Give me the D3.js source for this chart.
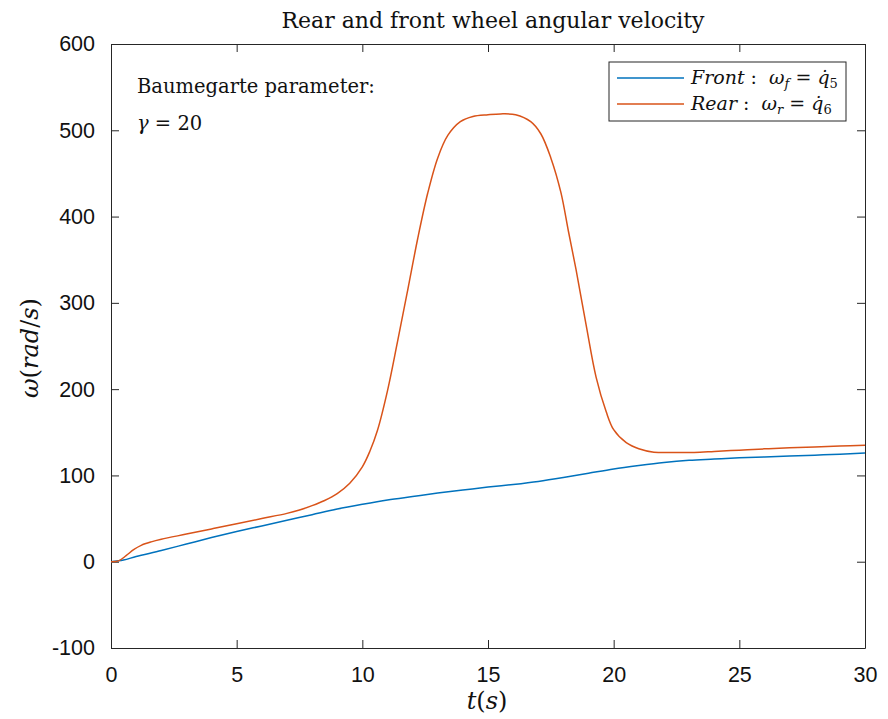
<!DOCTYPE html>
<html>
<head>
<meta charset="utf-8">
<script src="https://cdn.jsdelivr.net/npm/d3@7"></script>
<style>
  html, body { margin: 0; padding: 0; background: #fff; }
  svg { display: block; }
</style>
</head>
<body>
<svg id="chart" width="888" height="719"></svg>
<script>
// Time samples (s) and angular velocities (rad/s) for both wheels
const frontT = [0, 0.5, 1, 2, 3, 4, 5, 6, 7, 8, 9, 10, 11, 12, 13, 14, 15, 16, 17, 18, 19, 20, 21, 22, 23, 24, 25, 26, 27, 28, 29, 30];
const frontW = [0, 2, 6, 13, 20.5, 28, 35, 41.5, 48, 54.5, 61, 66.5, 71.5, 75.5, 79.5, 83, 86.5, 89.5, 93, 97.5, 102.5, 107.5, 111.5, 115, 117.5, 119, 120.5, 121.5, 122.5, 123.5, 124.5, 126];

const rearT = [0, 0.3, 0.6, 0.9, 1.2, 1.6, 2, 3, 4, 5, 6, 7, 7.5, 8, 8.5, 9, 9.5, 10, 10.3, 10.6, 11, 11.4, 11.8, 12.2, 12.6, 13, 13.4, 13.9, 14.4, 15, 15.5, 16.1, 16.7, 17.1, 17.5, 17.9, 18.2, 18.5, 18.9, 19.3, 19.7, 20, 20.5, 21, 21.6, 22.3, 23.2, 24, 25, 26, 27, 28, 29, 30];
const rearW = [0, 1, 7, 14, 19, 23, 26, 32, 38, 44, 50, 56, 60, 65, 71, 79, 91, 110, 128, 152, 198, 255, 314, 374, 427, 468, 494, 510, 516, 518, 519, 518, 510, 496, 468, 428, 383, 339, 275, 214, 174, 153, 138, 131, 127, 126.5, 126.7, 127.8, 129.3, 130.8, 132, 133, 134, 135];

const xTicks = [0, 5, 10, 15, 20, 25, 30];
const yTicks = [-100, 0, 100, 200, 300, 400, 500, 600];

const seriesColors = { front: "#0072BD", rear: "#D95319" };

const svg = d3.select("#chart");
const m = { left: 111, right: 865, top: 44, bottom: 648 };

const x = d3.scaleLinear().domain([0, 30]).range([m.left, m.right]);
const y = d3.scaleLinear().domain([-100, 600]).range([m.bottom, m.top]);

const axisColor = "#262626";
const tickLen = 8;
const plainNum = d => String(d); // hyphen-minus like the plotting tool uses

// Axes with inward ticks on all four sides (boxed)
function styleAxis(g) {
  g.selectAll("path.domain").attr("stroke", axisColor).attr("stroke-width", 1);
  g.selectAll(".tick line").attr("stroke", axisColor).attr("stroke-width", 1);
  g.selectAll(".tick text")
    .attr("fill", "#111")
    .style("font-family", "'Liberation Sans', Arial, sans-serif")
    .style("font-size", "21.5px");
}

const gx = svg.append("g").attr("transform", `translate(0,${m.bottom})`)
  .call(d3.axisBottom(x).tickValues(xTicks).tickSizeInner(-tickLen).tickSizeOuter(0).tickPadding(19).tickFormat(plainNum));
styleAxis(gx);

const gxTop = svg.append("g").attr("transform", `translate(0,${m.top})`)
  .call(d3.axisTop(x).tickValues(xTicks).tickSizeInner(-tickLen).tickSizeOuter(0).tickFormat(""));
styleAxis(gxTop);

const gy = svg.append("g").attr("transform", `translate(${m.left},0)`)
  .call(d3.axisLeft(y).tickValues(yTicks).tickSizeInner(-tickLen).tickSizeOuter(0).tickPadding(16).tickFormat(plainNum));
styleAxis(gy);

const gyRight = svg.append("g").attr("transform", `translate(${m.right},0)`)
  .call(d3.axisRight(y).tickValues(yTicks).tickSizeInner(-tickLen).tickSizeOuter(0).tickFormat(""));
styleAxis(gyRight);

// Series lines
const line = d3.line()
  .x(d => x(d[0]))
  .y(d => y(d[1]))
  .curve(d3.curveCatmullRom.alpha(0.5));

svg.append("clipPath").attr("id", "plotClip")
  .append("rect")
  .attr("x", m.left).attr("y", m.top)
  .attr("width", m.right - m.left).attr("height", m.bottom - m.top);

const plot = svg.append("g").attr("clip-path", "url(#plotClip)");

plot.append("path")
  .datum(d3.zip(frontT, frontW))
  .attr("fill", "none")
  .attr("stroke", seriesColors.front)
  .attr("stroke-width", 1.5)
  .attr("d", line);

plot.append("path")
  .datum(d3.zip(rearT, rearW))
  .attr("fill", "none")
  .attr("stroke", seriesColors.rear)
  .attr("stroke-width", 1.5)
  .attr("d", line);

const serif = "'DejaVu Serif', 'Liberation Serif', serif";

// Title
svg.append("text")
  .attr("x", (m.left + m.right) / 2 + 5).attr("y", 28)
  .attr("text-anchor", "middle")
  .style("font-family", serif).style("font-size", "22px").attr("fill", "#111")
  .text("Rear and front wheel angular velocity");

// Axis labels
const xl = svg.append("text")
  .attr("x", (m.left + m.right) / 2 - 1).attr("y", 709)
  .attr("text-anchor", "middle")
  .style("font-family", serif).style("font-size", "24px").attr("fill", "#111");
xl.append("tspan").style("font-style", "italic").text("t");
xl.append("tspan").text("(");
xl.append("tspan").style("font-style", "italic").text("s");
xl.append("tspan").text(")");

const yl = svg.append("text")
  .attr("transform", `translate(38,${(m.top + m.bottom) / 2 + 2}) rotate(-90)`)
  .attr("text-anchor", "middle")
  .style("font-family", serif).style("font-size", "24px").attr("fill", "#111");
yl.append("tspan").style("font-style", "italic").text("ω");
yl.append("tspan").text("(");
yl.append("tspan").style("font-style", "italic").text("rad");
yl.append("tspan").text("/");
yl.append("tspan").style("font-style", "italic").text("s");
yl.append("tspan").text(")");

// Annotation
svg.append("text")
  .attr("x", 137).attr("y", 93)
  .style("font-family", serif).style("font-size", "19.5px").attr("fill", "#111")
  .text("Baumegarte parameter:");
const gam = svg.append("text")
  .attr("x", 137).attr("y", 130)
  .style("font-family", serif).style("font-size", "19.5px").attr("fill", "#111");
gam.append("tspan").style("font-style", "italic").text("γ");
gam.append("tspan").text(" = 20");

// Legend
const lg = svg.append("g");
lg.append("rect")
  .attr("x", 609).attr("y", 62).attr("width", 237).attr("height", 59)
  .attr("fill", "#fff").attr("stroke", axisColor).attr("stroke-width", 1);

const legendItems = [
  { key: "front", name: "Front", sym: "ω", sub: "f", q: "5", yy: 78 },
  { key: "rear", name: "Rear", sym: "ω", sub: "r", q: "6", yy: 104 }
];
legendItems.forEach(it => {
  lg.append("line")
    .attr("x1", 617).attr("x2", 684).attr("y1", it.yy).attr("y2", it.yy)
    .attr("stroke", seriesColors[it.key]).attr("stroke-width", 1.5);
  const t = lg.append("text")
    .attr("x", 691).attr("y", it.yy + 6)
    .style("font-family", serif).style("font-size", "19px").attr("fill", "#111")
    .attr("xml:space", "preserve");
  t.append("tspan").style("font-style", "italic").text(it.name);
  t.append("tspan").text(" :  ");
  t.append("tspan").style("font-style", "italic").text(it.sym);
  t.append("tspan").style("font-style", "italic").style("font-size", "13px").attr("dy", 4).text(it.sub);
  t.append("tspan").attr("dy", -4).text(" = ");
  t.append("tspan").style("font-style", "italic").text("q\u0307");
  t.append("tspan").style("font-size", "13px").attr("dy", 4).text(it.q);
});
</script>
</body>
</html>
